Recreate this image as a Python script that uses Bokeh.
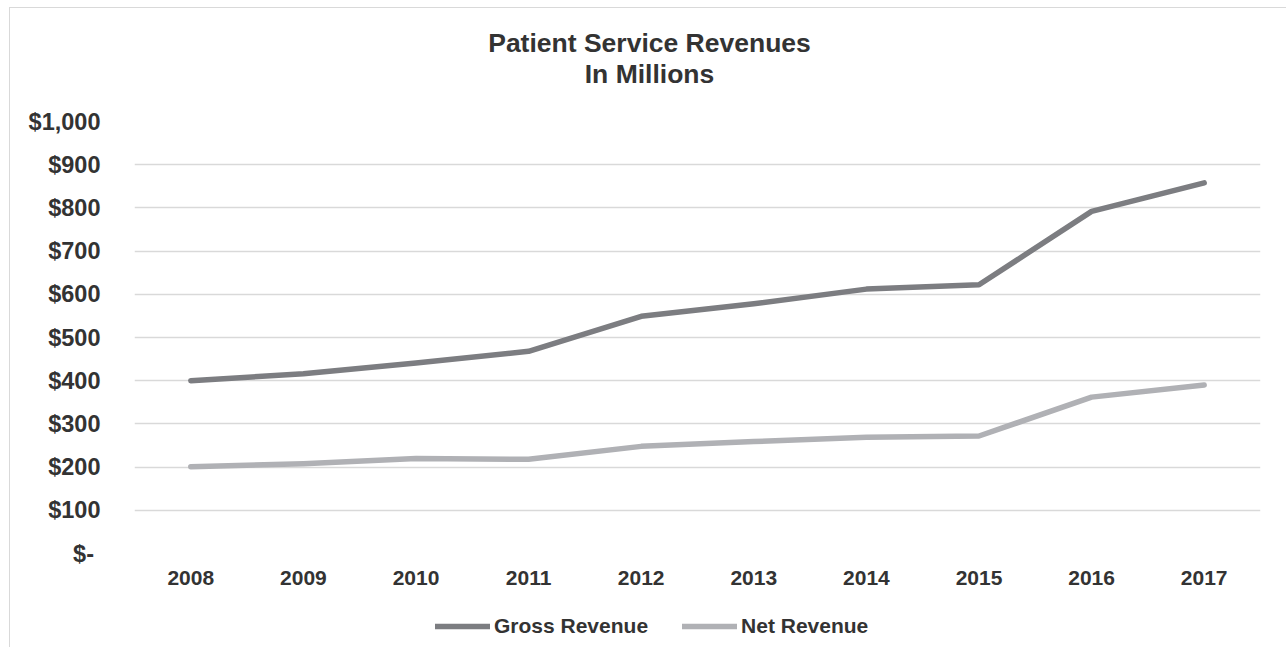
from bokeh.plotting import figure
from bokeh.models import Range1d, FactorRange, FixedTicker, Legend, LegendItem, ColumnDataSource
from bokeh.core.properties import value
from bokeh.layouts import column
from bokeh.embed import file_html
from bokeh.resources import INLINE

years = ["2008", "2009", "2010", "2011", "2012", "2013", "2014", "2015", "2016", "2017"]
gross_revenue = [400, 416, 441, 468, 549, 578, 612, 622, 792, 858]
net_revenue = [201, 208, 220, 218, 248, 259, 269, 272, 362, 390]
y_ticks = [0, 100, 200, 300, 400, 500, 600, 700, 800, 900, 1000]
y_tick_labels = ["$-\u00a0", "$100", "$200", "$300", "$400", "$500", "$600", "$700", "$800", "$900", "$1,000"]
title_lines = ["Patient Service Revenues", "In Millions"]
series_names = ["Gross Revenue", "Net Revenue"]

FONT = "Liberation Sans"
TXT = "#333333"
GROSS_C = "#7c7d81"
NET_C = "#b0b1b5"
W = 1276
ML, MR = 124, 26

src = ColumnDataSource(dict(year=years, gross=gross_revenue, net=net_revenue))

# title strip (x in pixels from the plot-area left edge, y in pixels from the strip top)
tf = figure(width=W, height=93, x_range=Range1d(0, 1126), y_range=Range1d(93, 0),
            output_backend="svg", toolbar_location=None,
            min_border_left=ML, min_border_right=MR, min_border_top=0, min_border_bottom=0)
tf.axis.visible = False
tf.grid.visible = False
tf.outline_line_color = None
tf.border_fill_color = "white"
tsrc = ColumnDataSource(dict(x=[515, 515], y=[34, 65], t=title_lines))
tf.text("x", "y", text="t", source=tsrc, text_align="center", text_baseline="middle",
        text_font=value(FONT), text_font_size="26.5px", text_font_style="bold", text_color=TXT)

p = figure(width=W, height=507, x_range=FactorRange(*years, range_padding=0),
           y_range=Range1d(0, 1000), output_backend="svg", toolbar_location=None,
           min_border_left=ML, min_border_right=MR, min_border_top=20, min_border_bottom=55)
p.outline_line_color = None
p.background_fill_color = "white"
p.border_fill_color = "white"

p.xgrid.grid_line_color = None
p.ygrid.grid_line_color = "#d9d9d9"
p.ygrid.grid_line_width = 1.5

p.yaxis.ticker = FixedTicker(ticks=y_ticks)
p.yaxis.major_label_overrides = {t: l for t, l in zip(y_ticks, y_tick_labels)}
for ax in (p.xaxis[0], p.yaxis[0]):
    ax.axis_line_color = None
    ax.major_tick_line_color = None
    ax.minor_tick_line_color = None
    ax.major_label_text_font = FONT
    ax.major_label_text_font_style = "bold"
    ax.major_label_text_color = TXT
p.yaxis.major_label_text_font_size = "23.5px"
p.xaxis.major_label_text_font_size = "21px"
p.yaxis.major_label_standoff = 28
p.xaxis.major_label_standoff = 11

p.line("year", "gross", source=src, line_color=GROSS_C, line_width=5.5,
       line_cap="round", line_join="round")
p.line("year", "net", source=src, line_color=NET_C, line_width=5.5,
       line_cap="round", line_join="round")

# legend strip below the chart (series lie far above its visible range)
lf = figure(width=W, height=39, x_range=FactorRange(*years, range_padding=0),
            y_range=Range1d(0, 1), output_backend="svg", toolbar_location=None,
            min_border_left=ML, min_border_right=MR, min_border_top=0, min_border_bottom=0)
lf.axis.visible = False
lf.grid.visible = False
lf.outline_line_color = None
lf.background_fill_color = "white"
lf.border_fill_color = "white"
g1 = lf.line("year", "gross", source=src, line_color=GROSS_C, line_width=5.5, line_cap="round")
g2 = lf.line("year", "net", source=src, line_color=NET_C, line_width=5.5, line_cap="round")
legend = Legend(items=[LegendItem(label=series_names[0], renderers=[g1]),
                       LegendItem(label=series_names[1], renderers=[g2])],
                orientation="horizontal", location=(301, 9),
                glyph_width=55, glyph_height=24, label_height=24, label_standoff=4, spacing=34,
                padding=0, margin=0, border_line_color=None, background_fill_alpha=0,
                label_text_font=FONT, label_text_font_size="21px",
                label_text_font_style="bold", label_text_color=TXT)
lf.add_layout(legend)

col = column(tf, p, lf, spacing=0)
col.styles = {"margin-left": "9px", "margin-top": "7px",
              "border-left": "1px solid #d9d9d9", "border-top": "1px solid #d9d9d9"}

open("out.html", "w").write(file_html(col, INLINE))
